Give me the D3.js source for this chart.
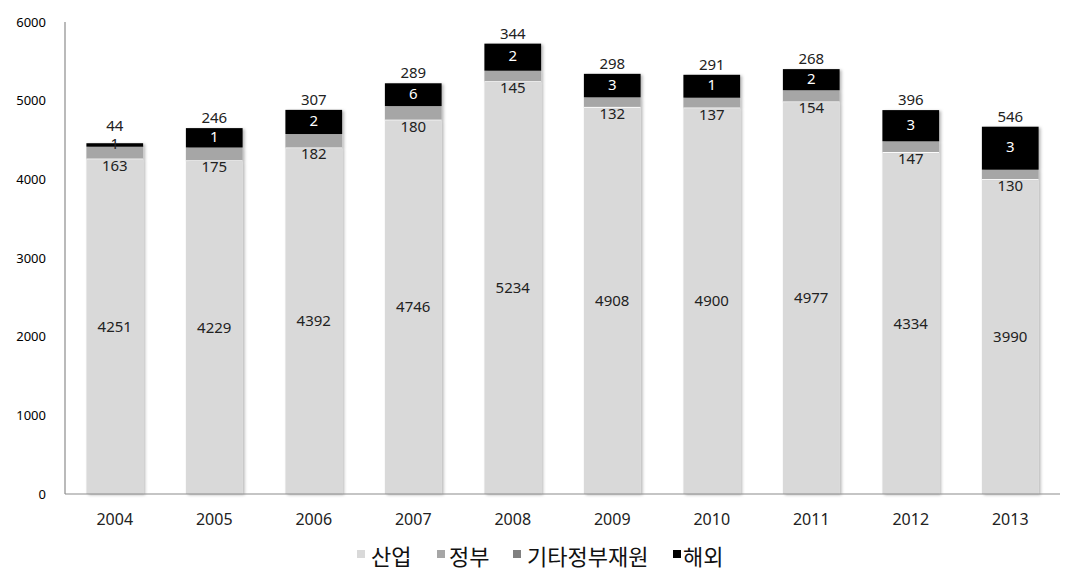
<!DOCTYPE html>
<html><head><meta charset="utf-8">
<script src="https://cdn.jsdelivr.net/npm/d3@7"></script>
<style>
html,body{margin:0;padding:0;background:#fff;}
svg{display:block;}
</style></head>
<body>
<svg id="chart" width="1075" height="581"></svg>
<script>
const years = ["2004","2005","2006","2007","2008","2009","2010","2011","2012","2013"];
const industry = [4251,4229,4392,4746,5234,4908,4900,4977,4334,3990];
const government = [163,175,182,180,145,132,137,154,147,130];
const otherGov = [1,1,2,6,2,3,1,2,3,3];
const overseas = [44,246,307,289,344,298,291,268,396,546];
const seriesNames = ["산업","정부","기타정부재원","해외"];
const seriesColors = ["#d9d9d9","#a6a6a6","#808080","#000000"];
const yTicks = [0,1000,2000,3000,4000,5000,6000];

const svg = d3.select("#chart");
const margin = {left:65, right:15, top:22, bottom:87};
const W = 1075, H = 581;
const x = d3.scaleBand().domain(years).range([margin.left, W - margin.right]).paddingInner(0.43).paddingOuter(0.215);
const y = d3.scaleLinear().domain([0,6000]).range([H - margin.bottom, margin.top]);

const defs = svg.append("defs");
const f = defs.append("filter").attr("id","sh").attr("x","-20%").attr("y","-20%").attr("width","140%").attr("height","140%");
f.append("feDropShadow").attr("dx",2).attr("dy",1).attr("stdDeviation",1.5).attr("flood-color","#000").attr("flood-opacity",0.28);

const rows = years.map((yr,i)=>({year:yr, s0:industry[i], s1:government[i], s2:otherGov[i], s3:overseas[i]}));
const stack = d3.stack().keys(["s0","s1","s2","s3"])(rows);

// y axis labels
svg.append("g").selectAll("text").data(yTicks).join("text")
  .attr("x",46).attr("y",d=>y(d)+4.5).attr("text-anchor","end")
  .attr("font-family","'Noto Sans', sans-serif").attr("font-size",13).attr("fill","#000")
  .text(d=>d);

// bars
const gBars = svg.append("g");
years.forEach((yr,i)=>{
  const g = gBars.append("g").attr("filter","url(#sh)");
  stack.forEach((layer,k)=>{
    const d = layer[i];
    g.append("rect").attr("x",x(yr)).attr("width",x.bandwidth())
      .attr("y",y(d[1])).attr("height",Math.max(0,y(d[0])-y(d[1])))
      .attr("fill",seriesColors[k]);
  });
});
gBars.selectAll("line.sep").data(rows).join("line")
  .attr("x1",d=>x(d.year)).attr("x2",d=>x(d.year)+x.bandwidth())
  .attr("y1",d=>y(d.s0)-0.5).attr("y2",d=>y(d.s0)-0.5)
  .attr("stroke","#fff").attr("stroke-width",1);

// axes lines
svg.append("line").attr("x1",margin.left).attr("x2",margin.left).attr("y1",y(6000)).attr("y2",y(0)).attr("stroke","#8c8c8c").attr("stroke-width",1.2);
svg.append("line").attr("x1",margin.left).attr("x2",W-margin.right).attr("y1",y(0)).attr("y2",y(0)).attr("stroke","#8c8c8c").attr("stroke-width",1.2);

// x labels
svg.append("g").selectAll("text").data(years).join("text")
  .attr("x",d=>x(d)+x.bandwidth()/2).attr("y",y(0)+31).attr("text-anchor","middle")
  .attr("font-family","'Noto Sans', sans-serif").attr("font-size",16).attr("fill","#222")
  .text(d=>d);

const lbl = svg.append("g").attr("font-family","'Noto Sans', sans-serif").attr("font-size",15).attr("text-anchor","middle");
rows.forEach((r,i)=>{
  const cx = x(r.year)+x.bandwidth()/2;
  lbl.append("text").attr("x",cx).attr("y",y(r.s0/2)+5).attr("fill","#222").text(r.s0);
  lbl.append("text").attr("x",cx).attr("y",y(r.s0)+11).attr("fill","#222").text(r.s1);
  const b = r.s0+r.s1+r.s2;
  const top = b + r.s3;
  const segH = y(b)-y(top);
  const midY = (y(b)+y(top))/2+4;
  lbl.append("text").attr("x",cx).attr("y",midY)
    .attr("fill", segH>10 ? "#fff" : "#222").text(r.s2);
  lbl.append("text").attr("x",cx).attr("y",Math.min(y(top)-5, midY-18)).attr("fill","#222").text(r.s3);
});

// legend
const legend = svg.append("g").attr("font-family","'Noto Sans CJK KR', sans-serif").attr("font-size",22);
const legMarkX = [357,437,513,673];
const legTextX = [371,449,527,683];
seriesNames.forEach((n,k)=>{
  legend.append("rect").attr("x",legMarkX[k]).attr("y",550).attr("width",8).attr("height",8).attr("fill",seriesColors[k]);
  legend.append("text").attr("x",legTextX[k]).attr("y",565).attr("fill","#111").text(n);
});
</script>
</body></html>
